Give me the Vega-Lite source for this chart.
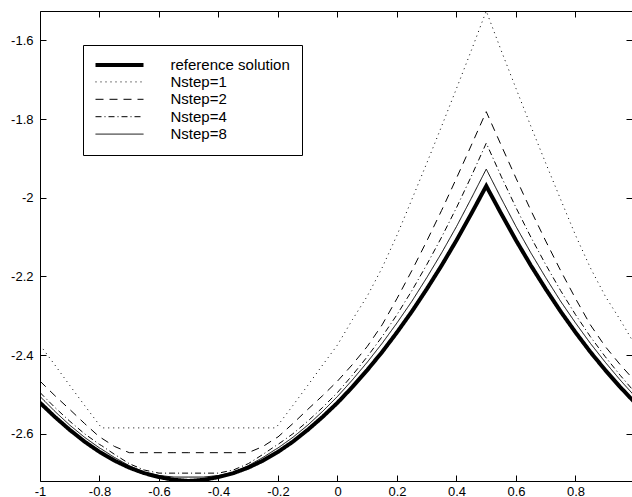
{
  "$schema": "https://vega.github.io/schema/vega-lite/v6.json",
  "width": 592,
  "height": 470,
  "autosize": {"type": "none"},
  "padding": {"left": 40, "top": 11, "right": 0, "bottom": 16},
  "background": "white",
  "config": {
    "view": {"stroke": null},
    "axis": {
      "domainColor": "black",
      "domainWidth": 1,
      "tickColor": "black",
      "tickWidth": 1,
      "labelColor": "black",
      "labelFont": "Liberation Sans",
      "labelFontSize": 13,
      "grid": false,
      "title": null,
      "labelFlush": false,
      "labelOverlap": false
    },
    "legend": {"symbolStrokeColor": "black"}
  },
  "data": {
    "values": [
      {"x": -1, "ref": -2.521, "n1": -2.374, "n2": -2.466, "n4": -2.495, "n8": -2.505},
      {"x": -0.95, "ref": -2.557, "n1": -2.425, "n2": -2.503, "n4": -2.533, "n8": -2.543},
      {"x": -0.9, "ref": -2.590, "n1": -2.477, "n2": -2.538, "n4": -2.568, "n8": -2.578},
      {"x": -0.85, "ref": -2.620, "n1": -2.528, "n2": -2.574, "n4": -2.600, "n8": -2.609},
      {"x": -0.8, "ref": -2.646, "n1": -2.578, "n2": -2.608, "n4": -2.627, "n8": -2.636},
      {"x": -0.793, "ref": -2.649, "n1": -2.585, "n2": -2.611, "n4": -2.630, "n8": -2.639},
      {"x": -0.75, "ref": -2.668, "n1": -2.585, "n2": -2.632, "n4": -2.652, "n8": -2.660},
      {"x": -0.7, "ref": -2.686, "n1": -2.585, "n2": -2.648, "n4": -2.676, "n8": -2.681},
      {"x": -0.65, "ref": -2.700, "n1": -2.585, "n2": -2.648, "n4": -2.692, "n8": -2.698},
      {"x": -0.6, "ref": -2.710, "n1": -2.585, "n2": -2.648, "n4": -2.700, "n8": -2.706},
      {"x": -0.55, "ref": -2.717, "n1": -2.585, "n2": -2.648, "n4": -2.700, "n8": -2.710},
      {"x": -0.5, "ref": -2.720, "n1": -2.585, "n2": -2.648, "n4": -2.700, "n8": -2.710},
      {"x": -0.45, "ref": -2.717, "n1": -2.585, "n2": -2.648, "n4": -2.700, "n8": -2.710},
      {"x": -0.4, "ref": -2.710, "n1": -2.585, "n2": -2.648, "n4": -2.700, "n8": -2.706},
      {"x": -0.35, "ref": -2.700, "n1": -2.585, "n2": -2.648, "n4": -2.692, "n8": -2.698},
      {"x": -0.3, "ref": -2.686, "n1": -2.585, "n2": -2.648, "n4": -2.676, "n8": -2.681},
      {"x": -0.25, "ref": -2.668, "n1": -2.585, "n2": -2.632, "n4": -2.652, "n8": -2.660},
      {"x": -0.207, "ref": -2.649, "n1": -2.585, "n2": -2.611, "n4": -2.630, "n8": -2.639},
      {"x": -0.2, "ref": -2.646, "n1": -2.578, "n2": -2.608, "n4": -2.627, "n8": -2.636},
      {"x": -0.15, "ref": -2.620, "n1": -2.528, "n2": -2.574, "n4": -2.600, "n8": -2.609},
      {"x": -0.1, "ref": -2.590, "n1": -2.477, "n2": -2.538, "n4": -2.568, "n8": -2.578},
      {"x": -0.05, "ref": -2.557, "n1": -2.425, "n2": -2.503, "n4": -2.533, "n8": -2.543},
      {"x": 0, "ref": -2.521, "n1": -2.374, "n2": -2.466, "n4": -2.495, "n8": -2.505},
      {"x": 0.05, "ref": -2.481, "n1": -2.310, "n2": -2.424, "n4": -2.451, "n8": -2.463},
      {"x": 0.1, "ref": -2.438, "n1": -2.250, "n2": -2.378, "n4": -2.404, "n8": -2.418},
      {"x": 0.15, "ref": -2.392, "n1": -2.178, "n2": -2.323, "n4": -2.353, "n8": -2.370},
      {"x": 0.2, "ref": -2.342, "n1": -2.095, "n2": -2.256, "n4": -2.297, "n8": -2.318},
      {"x": 0.25, "ref": -2.289, "n1": -2.004, "n2": -2.185, "n4": -2.236, "n8": -2.263},
      {"x": 0.3, "ref": -2.232, "n1": -1.912, "n2": -2.110, "n4": -2.170, "n8": -2.203},
      {"x": 0.35, "ref": -2.172, "n1": -1.818, "n2": -2.032, "n4": -2.100, "n8": -2.140},
      {"x": 0.4, "ref": -2.108, "n1": -1.722, "n2": -1.950, "n4": -2.025, "n8": -2.073},
      {"x": 0.45, "ref": -2.040, "n1": -1.625, "n2": -1.866, "n4": -1.945, "n8": -2.001},
      {"x": 0.5, "ref": -1.970, "n1": -1.525, "n2": -1.781, "n4": -1.861, "n8": -1.927},
      {"x": 0.55, "ref": -2.040, "n1": -1.625, "n2": -1.866, "n4": -1.945, "n8": -2.001},
      {"x": 0.6, "ref": -2.108, "n1": -1.722, "n2": -1.950, "n4": -2.025, "n8": -2.073},
      {"x": 0.65, "ref": -2.172, "n1": -1.818, "n2": -2.032, "n4": -2.100, "n8": -2.140},
      {"x": 0.7, "ref": -2.232, "n1": -1.912, "n2": -2.110, "n4": -2.170, "n8": -2.203},
      {"x": 0.75, "ref": -2.289, "n1": -2.004, "n2": -2.185, "n4": -2.236, "n8": -2.263},
      {"x": 0.8, "ref": -2.342, "n1": -2.095, "n2": -2.256, "n4": -2.297, "n8": -2.318},
      {"x": 0.85, "ref": -2.392, "n1": -2.178, "n2": -2.323, "n4": -2.353, "n8": -2.370},
      {"x": 0.9, "ref": -2.438, "n1": -2.250, "n2": -2.378, "n4": -2.404, "n8": -2.418},
      {"x": 0.95, "ref": -2.481, "n1": -2.310, "n2": -2.424, "n4": -2.451, "n8": -2.463},
      {"x": 1, "ref": -2.521, "n1": -2.374, "n2": -2.466, "n4": -2.495, "n8": -2.505}
    ]
  },
  "transform": [{"fold": ["ref", "n1", "n2", "n4", "n8"], "as": ["series", "y"]}],
  "layer": [
    {
      "mark": {"type": "line", "clip": true, "color": "black"},
      "encoding": {
        "x": {
          "field": "x", "type": "quantitative",
          "scale": {"domain": [-1, 0.98992], "nice": false, "zero": false},
          "axis": {
            "orient": "bottom",
            "values": [-1, -0.8, -0.6, -0.4, -0.2, 0, 0.2, 0.4, 0.6, 0.8],
            "tickSize": -6,
            "labelPadding": 10,
            "labelExpr": "replace(format(datum.value, '~g'), '\u2212', '-')"
          }
        },
        "y": {
          "field": "y", "type": "quantitative",
          "scale": {"domain": [-2.72, -1.525], "nice": false, "zero": false},
          "axis": {
            "orient": "left",
            "values": [-2.6, -2.4, -2.2, -2, -1.8, -1.6],
            "tickSize": -6,
            "labelPadding": 13,
            "labelExpr": "replace(format(datum.value, '~g'), '\u2212', '-')"
          }
        },
        "strokeDash": {
          "field": "series", "type": "nominal",
          "scale": {
            "domain": ["ref", "n1", "n2", "n4", "n8"],
            "range": [[1, 0], [1, 4], [8, 6], [6, 3, 1, 3], [1, 0]]
          },
          "legend": {
            "orient": "none",
            "legendX": 43,
            "legendY": 34,
            "title": null,
            "strokeColor": "black",
            "fillColor": "white",
            "padding": 12,
            "cornerRadius": 0,
            "symbolType": "M-4,0H4",
            "symbolSize": 144,
            "symbolOffset": 16.5,
            "labelOffset": 43,
            "labelFont": "Liberation Sans",
            "labelFontSize": 15,
            "labelColor": "black",
            "rowPadding": 1.4,
            "labelExpr": "datum.label == 'ref' ? 'reference solution' : replace(datum.label, 'n', 'Nstep=')"
          }
        },
        "strokeWidth": {
          "field": "series", "type": "nominal",
          "scale": {"type": "ordinal", "domain": ["ref", "n1", "n2", "n4", "n8"], "range": [4, 1, 1, 1, 1]}
        }
      }
    },
    {
      "mark": {"type": "line", "clip": true, "opacity": 0},
      "encoding": {
        "x": {
          "field": "x", "type": "quantitative",
          "axis": {
            "orient": "top",
            "values": [-1, -0.8, -0.6, -0.4, -0.2, 0, 0.2, 0.4, 0.6, 0.8],
            "tickSize": -6,
            "labels": false
          }
        },
        "y": {
          "field": "y", "type": "quantitative",
          "axis": {
            "orient": "right",
            "values": [-2.6, -2.4, -2.2, -2, -1.8, -1.6],
            "tickSize": -6,
            "domain": false,
            "labels": false
          }
        },
        "detail": {"field": "series", "type": "nominal"}
      }
    }
  ],
  "resolve": {"axis": {"x": "independent", "y": "independent"}}
}
